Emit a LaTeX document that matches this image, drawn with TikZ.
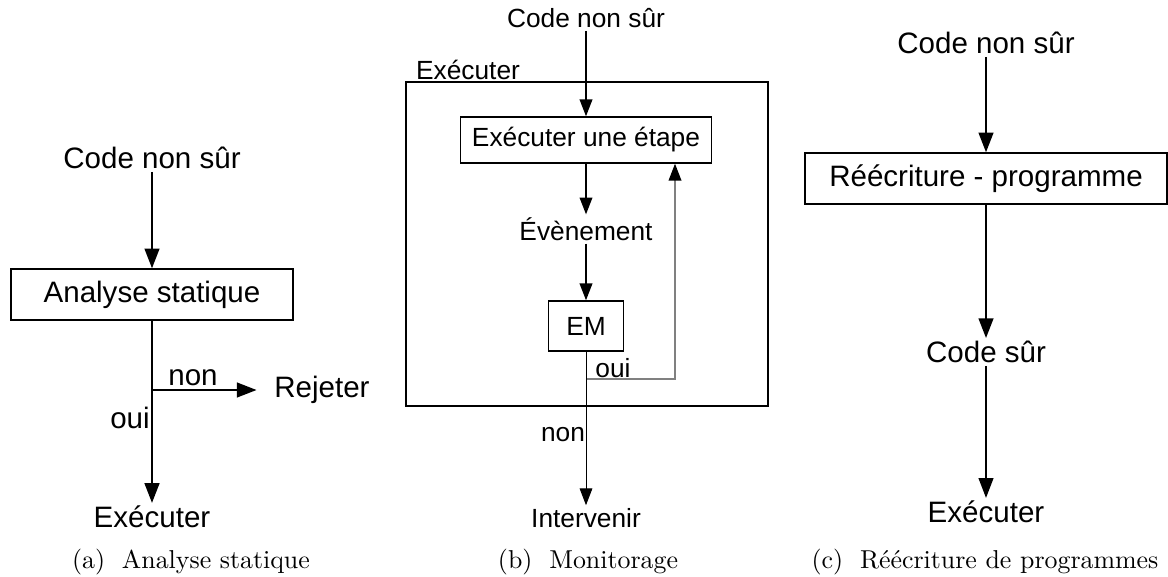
\documentclass[tikz,border=0pt]{standalone}
\usepackage{fontspec}
\usepackage{tikz}
\usetikzlibrary{arrows.meta}
\newfontfamily\diagfont{Liberation Sans}
\newfontfamily\capfont{lmroman10-regular.otf}

\begin{document}
\begin{tikzpicture}[x=0.025cm, y=-0.025cm,
        > = {Triangle[length=14pt,width=10.5pt]},
        txt/.style = {inner sep=2pt, font=\diagfont\fontsize{21}{25}\selectfont},
        txtb/.style = {inner sep=2pt, font=\diagfont\fontsize{18.7}{22}\selectfont},
        box/.style = {draw, line width=1pt},
        subcap/.style = {inner sep=0pt, font=\capfont\fontsize{18.4}{22}\selectfont},
        flow/.style = {->, line width=1.4pt},
        flowb/.style = {-{Triangle[length=12pt,width=9pt]}, line width=1.2pt}]
            \useasboundingbox (0,0) rectangle (1168,577);
            % (a) analyse statique
            \node[txt] (cna) at (152,158) {Code non sûr};
            \node[box, txt, minimum width=7.05cm, minimum height=1.275cm] (ana) at (152,294.5) {Analyse statique};
            \node[txt] (exa) at (152,517) {Exécuter};
            \node[txt] (rej) at (322,390) {Rejeter};
            \node[txt] (nona) at (193,378) {non};
            \node[txt] (ouia) at (130,418) {oui};
            \coordinate (bra) at (152,390);
            \draw[flow] (cna) -- (ana);
            \draw[flow] (ana) -- (exa);
            \draw[flow, shorten >=10.5pt] (bra) -- (rej);
            \node[subcap] (capa) at (191,562) {(a)\hspace{0.65em}Analyse statique};
            % (b) monitorage
            \node[txtb] (cnb) at (586,18) {Code non sûr};
            \node[draw, line width=1.3pt, minimum width=9.05cm, minimum height=8.1cm] (frb) at (587,244) {};
            \node[txtb] (exb) at (468,70) {Exécuter};
            \node[box, txtb, minimum width=6.275cm, minimum height=1.15cm] (etb) at (586,140) {Exécuter une étape};
            \node[txtb] (evb) at (586,229) {Évènement};
            \node[box, txtb, minimum width=1.875cm, minimum height=1.25cm] (emb) at (586,326) {EM};
            \node[txtb] (intb) at (586,518) {Intervenir};
            \node[txtb] (ouib) at (613,368) {oui};
            \node[txtb] (nonb) at (563,435) {non};
            \coordinate (fbl) at (587,379);
            \coordinate (fbr) at (675,379);
            \draw[flowb] (cnb) -- (etb);
            \draw[flowb] (etb) -- (evb);
            \draw[flowb] (evb) -- (emb);
            \draw[flowb, line width=0.7pt] (emb) -- (intb);
            \draw[-{Triangle[length=12pt,width=9pt,color=black]}, gray, line width=1pt] (fbl) -- (fbr) -- (fbr |- etb.south);
            \node[subcap] (capb) at (588,562) {(b)\hspace{0.65em}Monitorage};
            % (c) reecriture
            \node[txt] (cnc) at (986,43) {Code non sûr};
            \node[box, txt, minimum width=9.05cm, minimum height=1.275cm] (rwc) at (986,178.5) {Réécriture - programme};
            \node[txt] (csc) at (986,352) {Code sûr};
            \node[txt] (exc) at (986,512) {Exécuter};
            \draw[flow] (cnc) -- (rwc);
            \draw[flow] (rwc) -- (csc);
            \draw[flow, line width=1pt] (csc) -- (exc);
            \node[subcap] (capc) at (985,562) {(c)\hspace{0.65em}Réécriture de programmes};
        \end{tikzpicture}
\end{document}
